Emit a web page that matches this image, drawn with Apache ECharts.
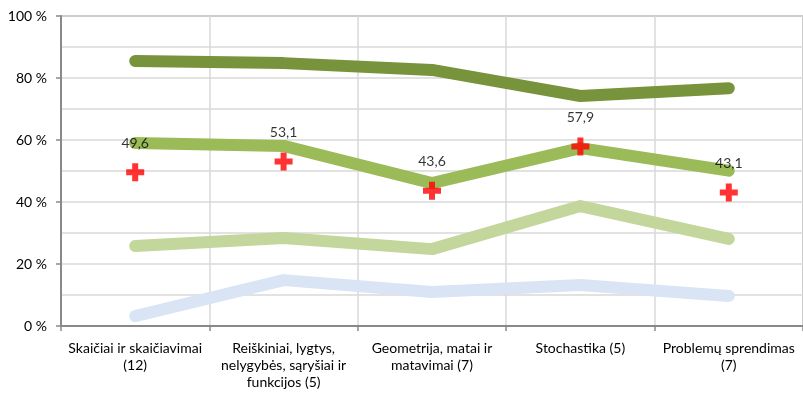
<!DOCTYPE html>
<html>
<head>
<meta charset="utf-8">
<style>
  html, body { margin: 0; padding: 0; background: #fff; }
  #chart { width: 803px; height: 394px; }
</style>
<script src="https://cdn.jsdelivr.net/npm/echarts@6/dist/echarts.min.js"></script>
</head>
<body>
<div id="chart"></div>
<script>
// Content areas of the test
const categories = [
  'Skaičiai ir skaičiavimai\n(12)',
  'Reiškiniai, lygtys,\nnelygybės, sąryšiai ir\nfunkcijos (5)',
  'Geometrija, matai ir\nmatavimai (7)',
  'Stochastika (5)',
  'Problemų sprendimas\n(7)'
];

// Share of students (%) per level line
const levelHigh   = [85.5, 84.8, 82.6, 74.2, 76.7];
const levelUpper  = [59.0, 58.1, 46.1, 57.4, 50.1];
const levelMiddle = [25.8, 28.4, 24.8, 38.7, 28.1];
const levelLow    = [3.2, 14.8, 11.0, 13.2, 9.7];

// Average score (%) per area, shown as crosses with labels
const averageScore = [49.6, 53.1, 43.6, 57.9, 43.1];

// Value axis ticks
const yTicks = [0, 20, 40, 60, 80, 100];

const FONT = 'Lato';
const crossPath = 'path://M6,0H12V6H18V12H12V18H6V12H0V6H6Z';

function thickLine(name, data, color) {
  return {
    name: name,
    type: 'line',
    data: data,
    showSymbol: false,
    silent: true,
    lineStyle: { color: color, width: 12, cap: 'round', join: 'round' },
    z: 2
  };
}

const chart = echarts.init(document.getElementById('chart'), null, { renderer: 'canvas' });

chart.setOption({
  animation: false,
  backgroundColor: '#ffffff',
  grid: { left: 61, right: -6, top: 16, bottom: 68, containLabel: false,
          show: true, borderColor: '#898989', borderWidth: 1.5 },
  xAxis: {
    type: 'category',
    data: categories,
    boundaryGap: true,
    axisLine: { show: true, lineStyle: { color: '#898989', width: 2 } },
    axisTick: { show: true, length: 5, lineStyle: { color: '#898989', width: 1.5 } },
    splitLine: { show: true, lineStyle: { color: '#D9D9D9', width: 1.5 } },
    axisLabel: {
      interval: 0,
      margin: 14,
      fontFamily: FONT,
      fontSize: 14,
      lineHeight: 17,
      color: '#000',
      align: 'center'
    }
  },
  yAxis: {
    type: 'value',
    min: yTicks[0],
    max: yTicks[yTicks.length - 1],
    interval: 20,
    axisLine: { show: true, lineStyle: { color: '#898989', width: 2 } },
    axisTick: { show: true, length: 5, lineStyle: { color: '#898989', width: 1.5 } },
    splitLine: { show: true, lineStyle: { color: '#D9D9D9', width: 1.5 } },
    minorTick: { show: false, splitNumber: 2 },
    minorSplitLine: { show: true, lineStyle: { color: '#D9D9D9', width: 1.5 } },
    axisLabel: {
      margin: 14,
      fontFamily: FONT,
      fontSize: 14,
      color: '#000',
      formatter: function (v) { return v + ' %'; }
    }
  },
  series: [
    thickLine('levelLow', levelLow, '#D9E5F4'),
    thickLine('levelMiddle', levelMiddle, '#C3D69B'),
    thickLine('levelUpper', levelUpper, '#9BBB59'),
    thickLine('levelHigh', levelHigh, '#77933C'),
    {
      name: 'averageScore',
      type: 'scatter',
      data: averageScore,
      symbol: crossPath,
      symbolSize: 18,
      itemStyle: { color: '#FF0000' },
      z: 5,
      label: {
        show: true,
        position: 'top',
        distance: 13,
        fontFamily: FONT,
        fontSize: 14,
        color: '#000',
        formatter: function (p) { return p.value.toFixed(1).replace('.', ','); }
      }
    }
  ]
});
</script>
</body>
</html>
